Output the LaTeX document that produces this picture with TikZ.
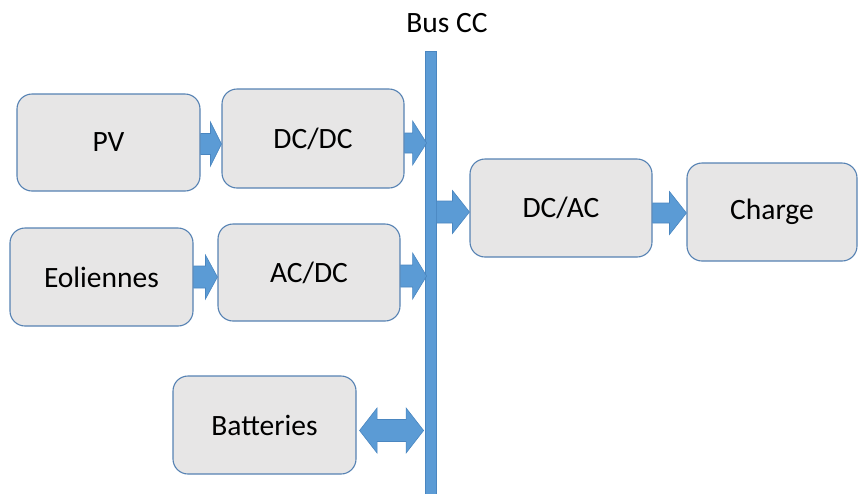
\documentclass[tikz,border=0pt]{standalone}
\usepackage{fontspec}
\setmainfont{Carlito}
\usetikzlibrary{calc}
\definecolor{boxfill}{HTML}{E7E6E6}
\definecolor{boxline}{HTML}{5682B3}
\definecolor{arrfill}{HTML}{5B9BD5}
\definecolor{arrline}{HTML}{4A86C0}
\tikzset{
  blockbox/.style={draw=boxline, line width=1.1pt, fill=boxfill, rounded corners=15pt,
    minimum height=98pt, inner sep=0pt, font=\fontsize{29.5}{34}\selectfont, text=black},
  busbar/.style={draw=arrline, line width=0.8pt, fill=arrfill, inner sep=0pt},
  barrowstyle/.style={draw=arrline, line width=0.6pt, fill=arrfill, line join=miter},
  lbl/.style={font=\fontsize{29.5}{34}\selectfont, inner sep=0pt}
}
% block arrow: start point #1 (gives x and y), end point #2 (gives x), shaft half #3, head half #4, head length #5
\newcommand\barrw[5]{%
  \path[barrowstyle] let \p1=(#1), \p2=(#2) in
    (\x1,\y1+#3) -- (\x2-#5,\y1+#3) -- (\x2-#5,\y1+#4) -- (\x2,\y1) --
    (\x2-#5,\y1-#4) -- (\x2-#5,\y1-#3) -- (\x1,\y1-#3) -- cycle;}
% double-headed block arrow
\newcommand\dbarrw[5]{%
  \path[barrowstyle] let \p1=(#1), \p2=(#2) in
    (\x1,\y1) -- (\x1+#5,\y1+#4) -- (\x1+#5,\y1+#3) -- (\x2-#5,\y1+#3) -- (\x2-#5,\y1+#4) -- (\x2,\y1) --
    (\x2-#5,\y1-#4) -- (\x2-#5,\y1-#3) -- (\x1+#5,\y1-#3) -- (\x1+#5,\y1-#4) -- cycle;}
\begin{document}
\begin{tikzpicture}[x=1pt,y=-1pt]
\useasboundingbox (0,0) rectangle (858,493);
\begin{scope}
\clip (0,0) rectangle (858,493);
\node[busbar, minimum width=11pt, minimum height=444pt] (bus) at (430.5,273) {};
\end{scope}
\node[lbl] (buslbl) at (447,23) {Bus CC};

\node[blockbox, minimum width=183pt, minimum height=97pt] (pv) at (108.5,142.5) {PV};
\node[blockbox, minimum width=182pt, minimum height=99pt] (dcdc) at (313,138.5) {DC/DC};
\node[blockbox, minimum width=183pt] (eol) at (101.5,277) {Eoliennes};
\node[blockbox, minimum width=182pt, minimum height=97pt] (acdc) at (309,272.5) {AC/DC};
\node[blockbox, minimum width=183pt] (bat) at (264.5,425) {Batteries};
\node[blockbox, minimum width=182pt] (dcac) at (561,208) {DC/AC};
\node[blockbox, minimum width=170pt] (charge) at (772,212) {Charge};

\coordinate (a1s) at ($(pv.east)+(0,1.5)$);
\barrw{a1s}{dcdc.west}{10.5pt}{22pt}{11pt}
\coordinate (a2s) at ($(dcdc.east)+(0,4.5)$);
\coordinate (a2e) at ($(bus.west)+(2,0)$);
\barrw{a2s}{a2e}{10pt}{22pt}{14pt}
\coordinate (a3s) at ($(eol.east)+(0,0)$);
\barrw{a3s}{acdc.west}{11pt}{22pt}{12pt}
\coordinate (a4s) at ($(acdc.east)+(0,3.5)$);
\barrw{a4s}{a2e}{11pt}{23pt}{14pt}
\coordinate (a5s) at (bus.east |- 0,212);
\barrw{a5s}{dcac.west}{11pt}{21.5pt}{17pt}
\coordinate (a6s) at ($(dcac.east)+(0,5)$);
\barrw{a6s}{charge.west}{10pt}{21.5pt}{17pt}
\coordinate (a7s) at ($(bat.east)+(3,5.5)$);
\coordinate (a7e) at ($(bus.west)+(-1,0)$);
\dbarrw{a7s}{a7e}{11pt}{22.5pt}{17.5pt}
\end{tikzpicture}
\end{document}
